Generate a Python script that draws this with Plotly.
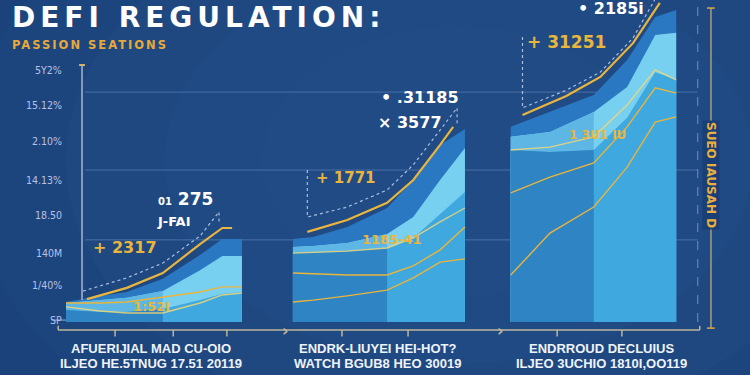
import plotly.graph_objects as go

# ---------------- data ----------------
ytick_vals = [78.3, 67.4, 56.2, 44.1, 33.2, 21.4, 11.5, 0.6]
ytick_text = ["5Y2%", "15.12%", "2.10%", "14.13%", "18.50", "140M", "1/40%", "SP"]

categories_line1 = ["AFUERIJIAL MAD CU-OIO", "ENDRK-LIUYEI HEI-HOT?", "ENDRROUD DECLUIUS"]
categories_line2 = ["ILJEO HE.5TNUG 17.51 20119", "WATCH BGUB8 HEO 30019", "ILJEO 3UCHIO 1810I,OO119"]
category_centers = [0.130, 0.477, 0.819]

grid_levels = [71.4, 47.2, 25.5]

# group 1
g1_x = [0, 5.2, 9.3, 14.8, 20.5, 23.9, 26.9]
g1_outer = [6.2, 8.1, 9.3, 13.4, 20.8, 25.8, 25.8]
g1_light = [5.9, 6.8, 7.5, 9.6, 16.1, 20.5, 20.5]
g1_mid = [3.7, 3.1, 3.1, 4.0, 6.8, 8.7, 9.3]
g1_gold_a = [4.7, 3.4, 2.8, 2.8, 5.9, 8.4, 9.0]
g1_gold_b = [5.9, 5.9, 6.2, 7.8, 9.3, 10.9, 10.9]
g1_top_x = [3.2, 9.3, 14.8, 20.5, 23.9, 25.4]
g1_top = [7.1, 10.6, 15.2, 24.2, 29.2, 29.2]
g1_dot_x = [2.6, 9.3, 14.8, 20.5, 23.4, 23.4]
g1_dot = [9.6, 13.7, 18.3, 26.7, 34.2, 30.4]
g1_split = 3

# group 2
g2_x = [34.7, 37.8, 43.0, 49.1, 53.1, 57.2, 61.0]
g2_outer = [25.8, 26.4, 29.5, 35.4, 44.1, 55.0, 59.9]
g2_light = [23.3, 23.6, 24.5, 27.3, 32.6, 44.1, 54.0]
g2_mid = [21.4, 21.4, 22.0, 23.0, 26.1, 33.5, 40.4]
g2_gold_a = [21.4, 21.7, 22.0, 23.0, 26.1, 31.1, 35.4]
g2_gold_b = [15.2, 14.9, 14.6, 14.6, 17.4, 22.4, 29.5]
g2_gold_c = [6.2, 6.8, 8.1, 9.9, 13.7, 18.6, 19.6]
g2_top_x = [36.9, 43.0, 49.1, 53.1, 57.2, 59.2]
g2_top = [28.0, 31.7, 37.0, 44.1, 55.0, 60.6]
g2_dot_x = [36.9, 36.9, 43.0, 49.1, 53.1, 57.2, 59.8, 59.8]
g2_dot = [47.2, 32.6, 35.7, 41.0, 48.8, 59.6, 66.5, 61.2]
g2_split = 3

# group 3
g3_x = [68.0, 74.0, 80.7, 85.8, 90.1, 93.3]
g3_outer = [60.6, 65.2, 70.5, 81.4, 94.7, 96.9]
g3_light = [57.5, 59.0, 65.2, 73.0, 89.1, 89.8]
g3_mid = [53.4, 52.8, 53.4, 63.4, 77.6, 75.2]
g3_gold_a = [53.4, 54.3, 57.5, 67.4, 78.3, 75.2]
g3_gold_b = [40.1, 45.0, 49.4, 60.6, 72.7, 71.1]
g3_gold_c = [14.6, 27.6, 35.7, 48.1, 62.1, 63.7]
g3_top_x = [69.8, 76.5, 81.7, 86.7, 90.8]
g3_top = [64.3, 70.2, 76.1, 86.6, 99.1]
g3_dot_x = [69.8, 69.8, 76.5, 81.7, 86.7, 90.0]
g3_dot = [88.5, 66.5, 72.0, 77.6, 88.2, 100.0]
g3_split = 2

# value labels: (x, y, text, size)
labels_gold = [
    (9.0, 23.0, "+ 2317", 16),
    (13.0, 4.7, "1:52I", 13),
    (42.8, 44.7, "+ 1771", 15),
    (49.8, 25.5, "1185-41", 13),
    (76.6, 87.0, "+ 31251", 17),
    (81.2, 58.1, "1 3U1 IU", 12),
]
labels_white = [
    (18.2, 38.2, "<span style='font-size:10px'>01</span> 275", 17),
    (16.5, 31.1, "J-FAI", 13),
    (54.1, 69.6, "• .31185", 16),
    (52.6, 62.1, "× 3577", 16),
    (83.3, 97.5, "• 2185i", 16),
]

# ---------------- styles ----------------
BG = "#193f76"
OUTER = "#2b78c2"
LIGHT_R = "#78d0f0"
LIGHT_L = "#5eb6e4"
MID_R = "#3ea8df"
MID_L = "#2f84c4"
GOLD = "#e9b53c"
DOT = "#a9bde3"
AXIS = "#bdb69a"

fig = go.Figure()


def area(x, y, color):
    fig.add_trace(go.Scatter(x=x, y=y, mode="lines", fill="tozeroy",
                             fillcolor=color, line=dict(width=0, color=color),
                             hoverinfo="skip", showlegend=False))


def line(x, y, color, width=1.5, dash="solid"):
    fig.add_trace(go.Scatter(x=x, y=y, mode="lines",
                             line=dict(width=width, color=color, dash=dash),
                             hoverinfo="skip", showlegend=False))


groups = [
    (g1_x, g1_outer, g1_light, g1_mid, [g1_gold_a, g1_gold_b], g1_top_x, g1_top, g1_dot_x, g1_dot, g1_split),
    (g2_x, g2_outer, g2_light, g2_mid, [g2_gold_a, g2_gold_b, g2_gold_c], g2_top_x, g2_top, g2_dot_x, g2_dot, g2_split),
    (g3_x, g3_outer, g3_light, g3_mid, [g3_gold_a, g3_gold_b, g3_gold_c], g3_top_x, g3_top, g3_dot_x, g3_dot, g3_split),
]

for gx, outer, light, mid, golds, tx, ty, dx, dy, sp in groups:
    area(gx, outer, OUTER)
    area(gx, light, LIGHT_R)
    area(gx[:sp + 1], light[:sp + 1], LIGHT_L)
    area(gx, mid, MID_R)
    area(gx[:sp + 1], mid[:sp + 1], MID_L)
    for i, g in enumerate(golds):
        line(gx, g, "rgba(240,215,120,0.85)" if i == 0 else GOLD, 1.4)
    line(dx, dy, DOT, 1.2, "dot")
    line(tx, ty, GOLD, 2.2)

annotations = []
for x, y, t, s in labels_gold:
    annotations.append(dict(x=x, y=y, xref="x", yref="y", text=f"<b>{t}</b>", showarrow=False,
                            xanchor="center", yanchor="middle",
                            font=dict(family="DejaVu Sans", size=s, color=GOLD)))
for x, y, t, s in labels_white:
    annotations.append(dict(x=x, y=y, xref="x", yref="y", text=f"<b>{t}</b>", showarrow=False,
                            xanchor="center", yanchor="middle",
                            font=dict(family="DejaVu Sans", size=s, color="#ffffff")))

# y tick labels, placed on the y scale just left of the plot area
for v, t in zip(ytick_vals, ytick_text):
    annotations.append(dict(x=-0.003, y=v, xref="paper", yref="y", text=t, showarrow=False,
                            xanchor="right", yanchor="middle",
                            font=dict(family="DejaVu Sans Condensed, DejaVu Sans", size=10.5,
                                      color="#b7c2e6")))

# title & subtitle
annotations.append(dict(x=-0.085, y=0.947, xref="paper", yref="paper", xanchor="left", yanchor="middle",
                        text="<span style='letter-spacing:5px'><b>DEFI REGULATION:</b></span>", showarrow=False,
                        font=dict(family="DejaVu Sans", size=28, color="#ffffff")))
annotations.append(dict(x=-0.085, y=0.860, xref="paper", yref="paper", xanchor="left", yanchor="middle",
                        text="<span style='letter-spacing:2px'><b>PASSION SEATIONS</b></span>", showarrow=False,
                        font=dict(family="DejaVu Sans", size=11.5, color="#e8a83a")))

# category labels
for cx, l1, l2 in zip(category_centers, categories_line1, categories_line2):
    annotations.append(dict(x=cx, y=-0.081, xref="paper", yref="paper", xanchor="center", yanchor="middle",
                            text=f"<b>{l1}</b>", showarrow=False,
                            font=dict(family="Liberation Sans", size=13, color="#eef3fb")))
    annotations.append(dict(x=cx, y=-0.130, xref="paper", yref="paper", xanchor="center", yanchor="middle",
                            text=f"<b>{l2}</b>", showarrow=False,
                            font=dict(family="Liberation Sans", size=13, color="#eef3fb")))

# right rotated label
annotations.append(dict(x=0.9862, y=0.4565, xref="paper", yref="paper", text="<b>SUEO IAUSAH D</b>",
                        xanchor="center", yanchor="middle",
                        textangle=90, showarrow=False,
                        font=dict(family="DejaVu Sans", size=12, color="#e9b040"),
                        bgcolor=BG))
# arrows on the bottom axis
for ax_ in [0.335, 0.664]:
    annotations.append(dict(x=ax_, y=-0.025, xref="paper", yref="paper", text="<b>›</b>", showarrow=False,
                            xanchor="center", yanchor="middle",
                            font=dict(family="DejaVu Sans", size=16, color=AXIS)))

shapes = []
# background glow
for r, a in [(0.9, 0.05), (0.75, 0.05), (0.6, 0.05), (0.45, 0.04), (0.3, 0.03)]:
    shapes.append(dict(type="circle", xref="paper", yref="paper", layer="below",
                       x0=0.6 - r, x1=0.6 + r, y0=0.5 - r * 1.4, y1=0.5 + r * 1.4,
                       fillcolor=f"rgba(70,130,205,{a})", line=dict(width=0)))
# grid lines
for g in grid_levels:
    shapes.append(dict(type="line", xref="paper", yref="y", layer="below", x0=0.029, x1=0.966, y0=g, y1=g,
                       line=dict(color="rgba(120,160,215,0.45)", width=1)))
# left vertical axis line with cap
shapes.append(dict(type="line", xref="x", yref="y", x0=2.45, x1=2.45, y0=6.8, y1=79.8,
                   line=dict(color="#aab4d2", width=1.5)))
shapes.append(dict(type="line", xref="x", yref="y", x0=2.0, x1=2.9, y0=79.8, y1=79.8,
                   line=dict(color="#d9b26a", width=2)))
# SP connector
shapes.append(dict(type="line", xref="paper", yref="y", x0=-0.022, x1=0.0, y0=0.6, y1=0.6,
                   line=dict(color="#9aa6cc", width=1)))
# bottom axis
shapes.append(dict(type="line", xref="paper", yref="paper", x0=-0.012, x1=0.969, y0=-0.025, y1=-0.025,
                   line=dict(color=AXIS, width=1.5)))
shapes.append(dict(type="line", xref="paper", yref="paper", x0=-0.012, x1=-0.012, y0=-0.025, y1=-0.012,
                   line=dict(color=AXIS, width=1.5)))
shapes.append(dict(type="line", xref="paper", yref="paper", x0=0.969, x1=0.969, y0=-0.025, y1=-0.012,
                   line=dict(color=AXIS, width=1.5)))
for tx_ in [0.075, 0.164, 0.246, 0.422, 0.523, 0.751, 0.850]:
    shapes.append(dict(type="line", xref="paper", yref="paper", x0=tx_, x1=tx_, y0=-0.025, y1=-0.045,
                       line=dict(color=AXIS, width=1.5)))
# right dashed vertical
shapes.append(dict(type="line", xref="paper", yref="paper", x0=0.966, x1=0.966, y0=0.0, y1=0.985,
                   line=dict(color="rgba(150,175,215,0.7)", width=1, dash="dash")))
# right solid vertical with caps
shapes.append(dict(type="line", xref="paper", yref="paper", x0=0.9862, x1=0.9862, y0=-0.019, y1=0.975,
                   line=dict(color="#a99f7c", width=1.5)))
for yc in [-0.019, 0.975]:
    shapes.append(dict(type="line", xref="paper", yref="paper", x0=0.980, x1=0.992, y0=yc, y1=yc,
                       line=dict(color="#d9a84a", width=1.5)))

fig.update_layout(
    width=750, height=375, autosize=False,
    margin=dict(l=66, r=30, t=0, b=53),
    paper_bgcolor=BG, plot_bgcolor="rgba(0,0,0,0)",
    xaxis=dict(range=[0, 100], visible=False, fixedrange=True),
    yaxis=dict(range=[0, 100], showticklabels=False, showgrid=False,
               zeroline=False, showline=False, ticks="", fixedrange=True),
    annotations=annotations, shapes=shapes, showlegend=False,
)

fig.write_html("out.html", config={"displayModeBar": False},
               post_script="document.body.style.margin='0';document.body.style.background='" + BG + "';")
